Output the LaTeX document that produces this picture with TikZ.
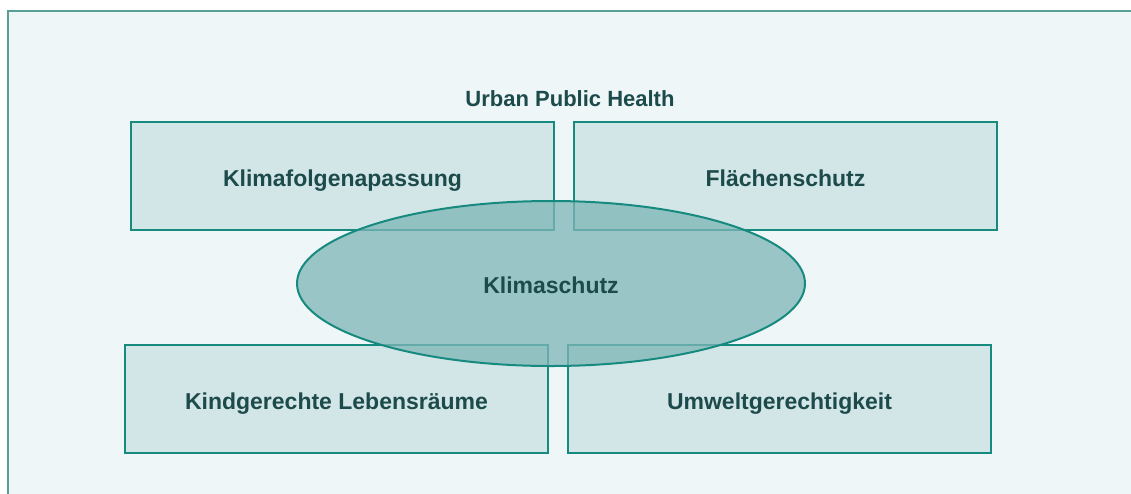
\documentclass[tikz,border=0pt]{standalone}
\usepackage{fontspec}
\setmainfont{Liberation Sans}
\usetikzlibrary{shapes.geometric}
\definecolor{bgc}{HTML}{EEF6F8}
\definecolor{framec}{HTML}{5A9E96}
\definecolor{boxfill}{HTML}{D2E6E7}
\definecolor{boxline}{HTML}{178A80}
\definecolor{ellfill}{HTML}{7DB5B6}
\definecolor{txt}{HTML}{1D4A4B}
\tikzset{
  lbl/.style={font=\bfseries\fontsize{23}{26}\selectfont, text=txt, text height=24pt, text depth=4pt},
  box/.style={lbl, draw=boxline, line width=2pt, fill=boxfill, minimum width=423pt, minimum height=108pt, inner sep=0pt, anchor=north west},
  ell/.style={lbl, ellipse, draw=boxline, line width=2pt, fill=ellfill, fill opacity=0.75, text opacity=1, minimum width=508pt, minimum height=165pt, inner sep=0pt},
  ttl/.style={font=\bfseries\fontsize{22}{26}\selectfont, text=txt, anchor=base}
}
\begin{document}
\begin{tikzpicture}[x=1pt,y=-1pt]
\useasboundingbox (0,0) rectangle (1131,493);
\fill[white] (0,0) rectangle (1131,493);
\begin{scope}
\clip (0,0) rectangle (1131,493);
\draw[framec, line width=2pt, fill=bgc] (8,11) rectangle (1145,510);
\end{scope}
\node[ttl] (title) at (570,106) {Urban Public Health};
\node[box] (kfa) at (130,121) {Klimafolgenapassung};
\node[box] (fs) at (573,121) {Flächenschutz};
\node[box] (kl) at (124,344) {Kindgerechte Lebensräume};
\node[box] (ug) at (567,344) {Umweltgerechtigkeit};
\node[ell] (ks) at (551,283.5) {Klimaschutz};
\end{tikzpicture}
\end{document}
